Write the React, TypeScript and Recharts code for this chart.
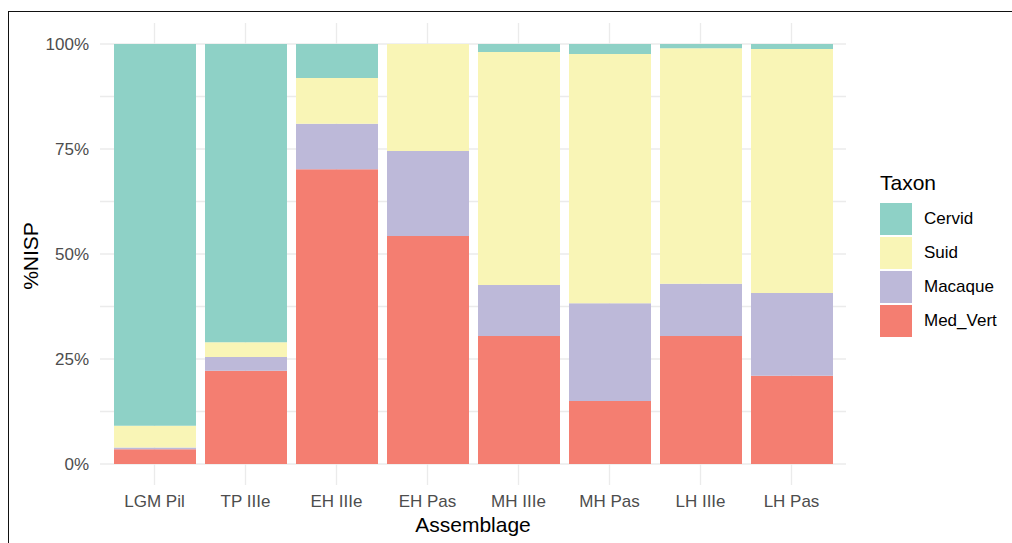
import React from "react";
import { BarChart, Bar, XAxis, YAxis, CartesianGrid, Legend, Label } from "recharts";

const categories = ["LGM Pil", "TP IIIe", "EH IIIe", "EH Pas", "MH IIIe", "MH Pas", "LH IIIe", "LH Pas"];
const medVert = [3.5, 22.2, 70.2, 54.3, 30.5, 15.0, 30.5, 21.0];
const macaque = [0.4, 3.3, 10.8, 20.2, 12.1, 23.3, 12.4, 19.7];
const suid = [5.2, 3.5, 10.9, 25.5, 55.5, 59.3, 56.1, 58.1];
const cervid = [90.9, 71.0, 8.1, 0.0, 1.9, 2.4, 1.0, 1.2];
const yTicks = [0, 12.5, 25, 37.5, 50, 62.5, 75, 87.5, 100];
const majorTicks = [0, 25, 50, 75, 100];

// legend order (top to bottom)
const taxa = ["Cervid", "Suid", "Macaque", "Med_Vert"];
const colors: Record<string, string> = {
  Cervid: "#8ED1C6",
  Suid: "#F9F5B6",
  Macaque: "#BDB9D9",
  Med_Vert: "#F47E71",
};

const data = categories.map((c, i) => ({
  name: c,
  Med_Vert: medVert[i],
  Macaque: macaque[i],
  Suid: suid[i],
  Cervid: cervid[i],
}));

const FONT = "'Liberation Sans', Arial, Helvetica, sans-serif";

const LegendContent = () => (
  <div style={{ position: "relative", width: 130, height: 180, fontFamily: FONT }}>
    <div style={{ position: "absolute", left: 0, top: 0, fontSize: 21, lineHeight: "24px", color: "#000" }}>Taxon</div>
    {taxa.map((t, i) => (
      <div key={t} style={{ position: "absolute", left: 0, top: 32 + i * 34, height: 32, display: "flex", alignItems: "center" }}>
        <div style={{ width: 32, height: 32, background: colors[t] }} />
        <div style={{ marginLeft: 12, fontSize: 17, color: "#000" }}>{t}</div>
      </div>
    ))}
  </div>
);

export default function App() {
  return (
    <div style={{ position: "absolute", left: 0, top: 0, width: 1012, height: 543, overflow: "hidden", background: "#fff" }}>
      <div
        style={{
          position: "absolute",
          left: 8,
          top: 11,
          width: 1100,
          height: 600,
          borderTop: "1.6px solid #111",
          borderLeft: "1.6px solid #111",
        }}
      />
      <div style={{ position: "absolute", left: 0, top: 0 }}>
        <BarChart
          width={1012}
          height={543}
          data={data}
          margin={{ top: 23, right: 36, bottom: 0, left: 0 }}
          barSize={82}
          style={{ fontFamily: FONT }}
        >
          <CartesianGrid stroke="#EBEBEB" strokeWidth={1.3} syncWithTicks />
          <XAxis
            dataKey="name"
            type="category"
            padding={{ left: 9, right: 9 }}
            height={58}
            axisLine={false}
            tickLine={false}
            tickSize={0}
            tickMargin={10}
            tick={{ fill: "#4D4D4D", fontSize: 17 }}
            interval={0}
          >
            <Label value="Assemblage" position="insideBottom" offset={11} style={{ fill: "#000", fontSize: 21 }} />
          </XAxis>
          <YAxis
            type="number"
            domain={[-5, 105]}
            ticks={yTicks}
            allowDataOverflow
            width={100}
            axisLine={false}
            tickLine={false}
            tickSize={0}
            tickMargin={11}
            tick={{ fill: "#4D4D4D", fontSize: 17 }}
            tickFormatter={(v: number) => (majorTicks.includes(v) ? `${v}%` : "")}
          >
            <Label
              content={(props: any) => {
                const vb = props.viewBox || { x: 0, y: 23, width: 100, height: 462 };
                const x = vb.x + 38;
                const y = vb.y + vb.height / 2 + 2;
                return (
                  <text x={x} y={y} transform={`rotate(-90 ${x} ${y})`} textAnchor="middle" fontSize={21} fill="#000" fontFamily={FONT}>
                    %NISP
                  </text>
                );
              }}
            />
          </YAxis>
          <Legend
            layout="vertical"
            align="right"
            verticalAlign="middle"
            content={<LegendContent />}
            wrapperStyle={{ position: "absolute", left: 880, top: 171, width: 130, height: 180 }}
          />
          <Bar dataKey="Med_Vert" stackId="a" fill={colors.Med_Vert} isAnimationActive={false} />
          <Bar dataKey="Macaque" stackId="a" fill={colors.Macaque} isAnimationActive={false} />
          <Bar dataKey="Suid" stackId="a" fill={colors.Suid} isAnimationActive={false} />
          <Bar dataKey="Cervid" stackId="a" fill={colors.Cervid} isAnimationActive={false} />
        </BarChart>
      </div>
    </div>
  );
}
